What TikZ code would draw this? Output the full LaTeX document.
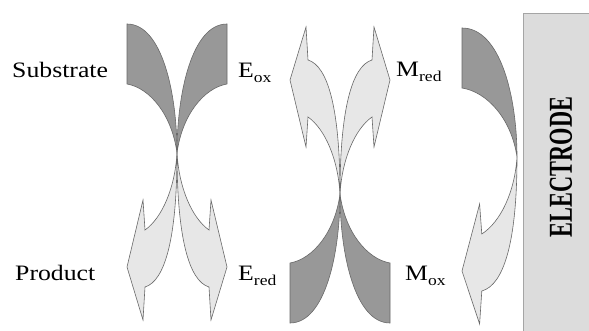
\documentclass[tikz,border=0pt]{standalone}
\usepackage{fontspec}
\setmainfont{Liberation Serif}
\definecolor{darkfill}{RGB}{152,152,152}
\definecolor{lightfill}{RGB}{231,231,231}
\definecolor{edgecol}{RGB}{105,105,105}
\definecolor{boxfill}{RGB}{220,220,220}
\definecolor{boxedge}{RGB}{165,165,165}
\tikzset{
  darkband/.pic={\filldraw[fill=darkfill,draw=edgecol,line width=0.6pt]
     (-50,-129) .. controls (-15,-129) and (0,-60) .. (0,0)
     .. controls (-5,-38) and (-27,-65) .. (-50,-69) -- cycle;},
  lightarrow/.pic={\filldraw[fill=lightfill,draw=edgecol,line width=0.6pt]
     (0,0) .. controls (0,85) and (-12,128) .. (-32,134) -- (-34,167)
     -- (-50,114) -- (-34,47) -- (-32,77)
     .. controls (-15,65) and (-2,35) .. (0,0) -- cycle;},
  lbl/.style={anchor=base west,inner sep=0pt,xscale=1.17,font=\fontsize{22}{22}\selectfont}
}
\newcommand{\subtxt}[1]{\raisebox{-5pt}{\fontsize{15}{15}\selectfont #1}}
\begin{document}
\begin{tikzpicture}[x=1pt,y=-1pt]
\useasboundingbox (0,0) rectangle (589,331);
\fill[white] (0,0) rectangle (589,331);
% left pair
\path (177,153) pic{lightarrow} pic[xscale=-1]{lightarrow};
\path (177,153) pic{darkband} pic[xscale=-1]{darkband};
% middle pair
\path (340,194) pic[yscale=-1]{lightarrow} pic[xscale=-1,yscale=-1]{lightarrow};
\path (340,194) pic[yscale=-1]{darkband} pic[xscale=-1,yscale=-1]{darkband};
% right single
\path (517,157) pic[xscale=1.1]{lightarrow};
\path (517,157) pic[xscale=1.1]{darkband};
% electrode
\begin{scope}
\clip (0,0) rectangle (589,331);
\filldraw[fill=boxfill,draw=boxedge,line width=0.8pt] (523,13) rectangle (600,340);
\end{scope}
\node[rotate=90,inner sep=0pt,font=\bfseries\fontsize{22.3}{22.3}\selectfont] (electrode) at (561,167) {\scalebox{1}[1.5]{ELECTRODE}};
% labels
\node[lbl] (substrate) at (12,78) {Substrate};
\node[lbl] (product) at (15,280) {Product};
\node[lbl] (eox) at (238,78) {E\subtxt{ox}};
\node[lbl] (ered) at (238,280) {E\subtxt{red}};
\node[lbl] (mred) at (396,77) {M\subtxt{red}};
\node[lbl] (mox) at (405,280) {M\subtxt{ox}};
\end{tikzpicture}
\end{document}
